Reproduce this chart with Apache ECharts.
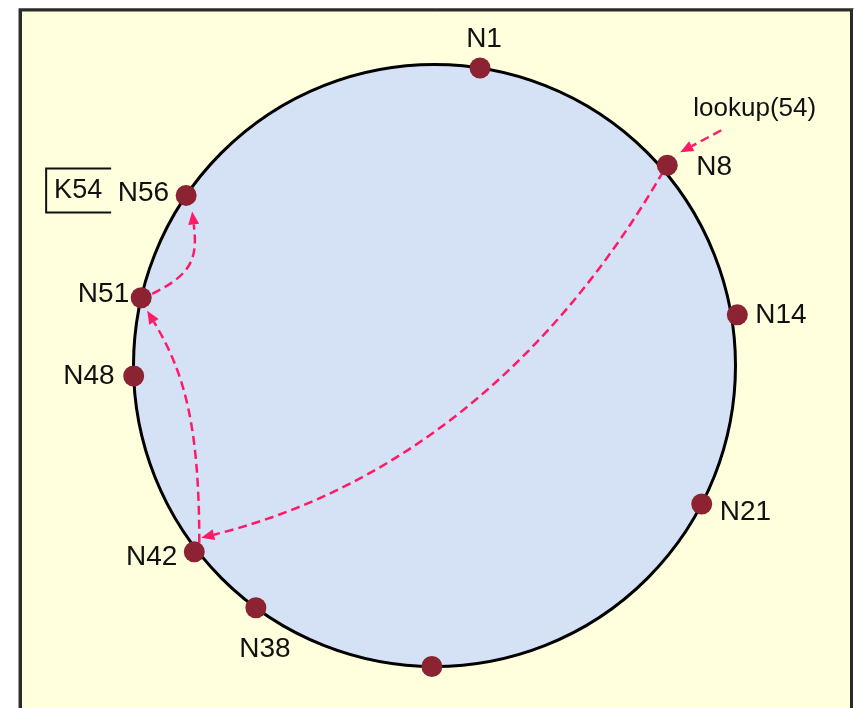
<!DOCTYPE html>
<html><head><meta charset="utf-8">
<script src="https://cdn.jsdelivr.net/npm/echarts@6/dist/echarts.min.js"></script>
<style>html,body{margin:0;padding:0;background:#fff}#c{width:854px;height:708px}</style>
</head><body><div id="c"></div>
<script>
// ---- data ----
const nodeIds    = ['N1','N8','N14','N21','N32','N38','N42','N48','N51','N56'];
const nodeLabels = ['N1','N8','N14','N21','','N38','N42','N48','N51','N56'];
const nodeAngles = [8.7, 49.3, 80.5, 117.4, 180.5, 216.4, 232.2, 268, 283, 304.4]; // deg clockwise from top
const nodeRadii  = [1.0, 1.02, 1.02, 1.0, 1.0, 1.0, 1.01, 1.0, 1.0, 1.0];
const hops       = [['N8','N42'], ['N42','N51'], ['N51','N56']];
const lookupText = 'lookup(54)';
const lookupNode = 'N8';
const keyText    = 'K54';
const keyNode    = 'N56';

// ---- layout / style ----
const W = 854, H = 708, CX = 434.5, CY = 365.5, R = 301;
const FONT = '"Liberation Sans", Arial, sans-serif';
const ARROW = '#FF1A68';
const TEXT = '#111';
const labelPlace = { // [dx, dy, align] in px relative to node centre
  N1:[4,-29,'center'], N8:[29,2,'left'], N14:[18,0,'left'], N21:[18,8,'left'],
  N38:[9,42,'center'], N42:[-17,5,'right'], N48:[-19,0,'right'], N51:[-12,-4,'right'], N56:[-17,-2,'right']
};
const hopStyle = [
  {s:[-4,6], e:[7,-14], sd:210, sl:0.33, ed:256, el:0.38},
  {s:[5,-9], e:[6,13], sd:0, sl:0.5, ed:329, el:0.3},
  {s:[11,-4], e:[6,16], sd:64, sl:0.5, ed:353, el:0.5}
];
const lookupStyle = {s:[54,-35], e:[13,-13], text:[26,-56]};
const keyStyle = {text:[-108,-5], box:[-140,-27,65,44]};

function nodeXY(id){
  const i = nodeIds.indexOf(id);
  const a = nodeAngles[i]*Math.PI/180, r = nodeRadii[i];
  return [r*Math.sin(a), r*Math.cos(a)];
}
function dir(t){ const a=t*Math.PI/180; return [Math.sin(a), -Math.cos(a)]; }

function arrowShapes(p0, p3, st){
  const L = Math.hypot(p3[0]-p0[0], p3[1]-p0[1]);
  let d1, d2;
  if (st.sd == null){ const u=[(p3[0]-p0[0])/L,(p3[1]-p0[1])/L]; d1=u; d2=u; }
  else { d1 = dir(st.sd); d2 = dir(st.ed); }
  const sl = st.sl==null?0.33:st.sl, el = st.el==null?0.33:st.el;
  const c1 = [p0[0]+sl*L*d1[0], p0[1]+sl*L*d1[1]];
  const c2 = [p3[0]-el*L*d2[0], p3[1]-el*L*d2[1]];
  const hl = 13, hw = 5.5;
  const ux = d2[0], uy = d2[1];
  const base = [p3[0]-hl*ux, p3[1]-hl*uy];
  const head = [[p3[0],p3[1]],[base[0]-hw*uy, base[1]+hw*ux],[base[0]+hw*uy, base[1]-hw*ux]];
  return [
    {type:'bezierCurve', shape:{x1:p0[0],y1:p0[1],cpx1:c1[0],cpy1:c1[1],cpx2:c2[0],cpy2:c2[1],x2:base[0],y2:base[1]},
     style:{stroke:ARROW, lineWidth:2.5, lineDash:[9,5], fill:null}},
    {type:'polygon', shape:{points:head}, style:{fill:ARROW}}
  ];
}

const chart = echarts.init(document.getElementById('c'), null, {renderer:'canvas'});
const option = {
  animation:false,
  backgroundColor:'#fff',
  graphic:[
    {type:'rect', z:-10, shape:{x:18.5,y:8.5,width:836,height:720}, style:{fill:null, stroke:'#9a9a9a', lineWidth:1}},
    {type:'rect', z:-9, shape:{x:20.5,y:10,width:831,height:720}, style:{fill:'#FFFFDD', stroke:'#2b2b2b', lineWidth:3}}
  ],
  grid:{left:0,right:0,top:0,bottom:0},
  xAxis:{type:'value', min:-CX/R, max:(W-CX)/R, show:false},
  yAxis:{type:'value', min:-(H-CY)/R, max:CY/R, show:false},
  series:[
    {type:'custom', z:1, silent:true, data:[[0,0]],
     renderItem:function(params, api){
       const c = api.coord([0,0]), e = api.coord([1,0]);
       return {type:'circle', shape:{cx:c[0],cy:c[1],r:e[0]-c[0]}, style:{fill:'#D5E2F5', stroke:'#000', lineWidth:3}};
     }},
    {type:'custom', z:3, silent:true, data:hops.map((h,i)=>[i]),
     renderItem:function(params, api){
       const i = params.dataIndex, st = hopStyle[i];
       const a = api.coord(nodeXY(hops[i][0])), b = api.coord(nodeXY(hops[i][1]));
       const p0 = [a[0]+st.s[0], a[1]+st.s[1]], p3 = [b[0]+st.e[0], b[1]+st.e[1]];
       return {type:'group', children:arrowShapes(p0, p3, st)};
     }},
    {type:'custom', z:3, silent:true, data:[[0]],
     renderItem:function(params, api){
       const n = api.coord(nodeXY(lookupNode)), st = lookupStyle;
       const p0 = [n[0]+st.s[0], n[1]+st.s[1]], p3 = [n[0]+st.e[0], n[1]+st.e[1]];
       const kids = arrowShapes(p0, p3, {});
       kids.push({type:'text', style:{x:n[0]+st.text[0], y:n[1]+st.text[1], text:lookupText, font:'26px '+FONT, fill:TEXT, align:'left', verticalAlign:'middle'}});
       return {type:'group', children:kids};
     }},
    {type:'custom', z:3, silent:true, data:[[0]],
     renderItem:function(params, api){
       const n = api.coord(nodeXY(keyNode)), st = keyStyle;
       const bx = n[0]+st.box[0], by = n[1]+st.box[1], bw = st.box[2], bh = st.box[3];
       return {type:'group', children:[
         {type:'polyline', shape:{points:[[bx+bw,by],[bx,by],[bx,by+bh],[bx+bw,by+bh]]}, style:{stroke:TEXT, lineWidth:2, fill:null}},
         {type:'text', style:{x:n[0]+st.text[0], y:n[1]+st.text[1], text:keyText, font:'27px '+FONT, fill:TEXT, align:'center', verticalAlign:'middle'}}
       ]};
     }},
    {type:'scatter', z:4, silent:true, symbol:'circle', symbolSize:21,
     itemStyle:{color:'#8B2332', opacity:1},
     data:nodeIds.map((id,i)=>{
       const lp = labelPlace[id];
       const d = {value:nodeXY(id), name:nodeLabels[i]};
       if (lp) d.label = {show:true, position:'inside', offset:[lp[0],lp[1]], align:lp[2], verticalAlign:'middle',
                          formatter:nodeLabels[i], color:TEXT, opacity:1, fontSize:28, fontFamily:FONT};
       return d;
     }),
     label:{show:false}
    }
  ]
};
chart.setOption(option);
</script>
</body></html>
